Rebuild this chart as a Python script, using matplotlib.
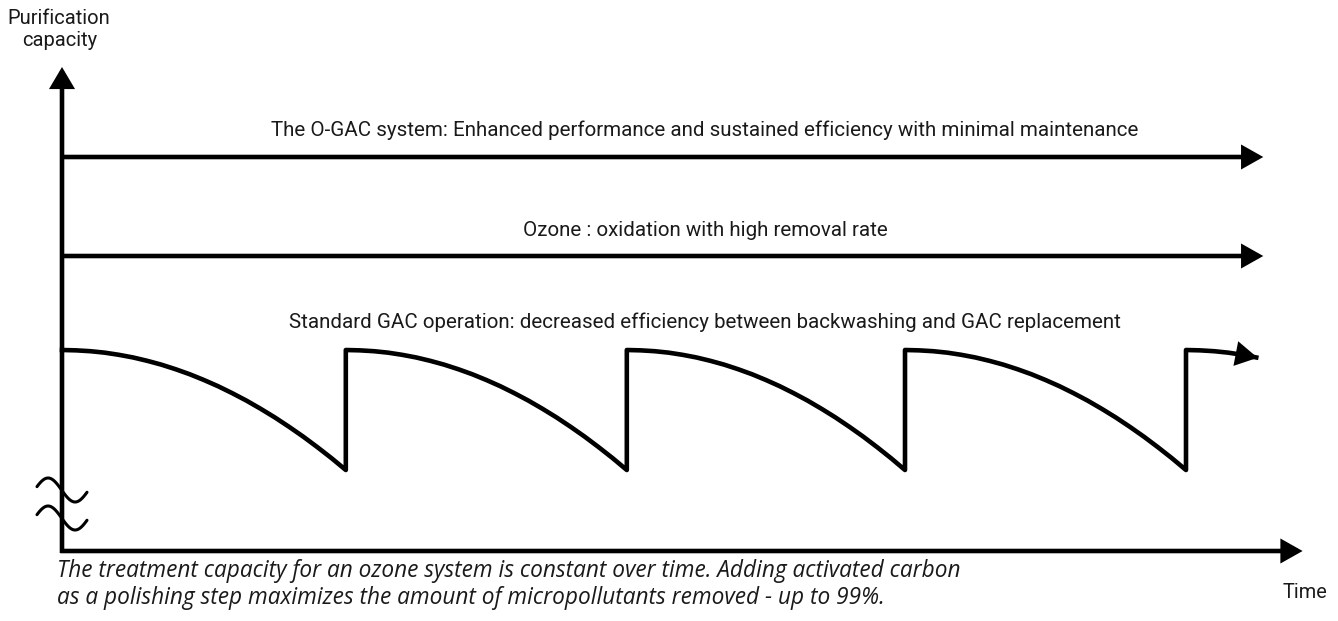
import numpy as np
import matplotlib
matplotlib.use("Agg")
import matplotlib.pyplot as plt

# ---- data (schematic units: time in GAC cycles, capacity in arbitrary units) ----
ogac_level = 3.94
ozone_level = 2.95
gac_max = 2.01
gac_min = 0.81
cycle_starts = [0.0, 1.01, 2.01, 3.0, 4.0]
line_end = 4.275
gac_end = 4.255
# decay of standard GAC capacity within one cycle (fraction of cycle, fraction of drop)
decay_frac_time = [0.0, 0.05, 0.1, 0.15, 0.2, 0.25, 0.3, 0.35, 0.4, 0.45, 0.5,
                   0.55, 0.6, 0.65, 0.7, 0.75, 0.8, 0.85, 0.9, 0.95, 1.0]
decay_frac_drop = [0.0, 0.003, 0.01, 0.022, 0.04, 0.062, 0.09, 0.122, 0.16, 0.202, 0.25,
                   0.302, 0.36, 0.422, 0.49, 0.562, 0.64, 0.722, 0.81, 0.902, 1.0]
x_axis_end = 4.415
y_axis_end = 4.84

labels = {
    "ogac": "The O-GAC system: Enhanced performance and sustained efficiency with minimal maintenance",
    "ozone": "Ozone : oxidation with high removal rate",
    "gac": "Standard GAC operation: decreased efficiency between backwashing and GAC replacement",
}
ylabel = "Purification\ncapacity"
xlabel = "Time"
note = ("The treatment capacity for an ozone system is constant over time. Adding activated carbon\n"
        "as a polishing step maximizes the amount of micropollutants removed - up to 99%.")

# ---- figure ----
W, H, DPI = 1338, 621, 100
fig = plt.figure(figsize=(W / DPI, H / DPI), dpi=DPI)
ax = fig.add_axes([0, 0, 1, 1])
ax.set_xlim(-62 / 281, (W - 62) / 281)
ax.set_ylim(-0.70, 5.51)
ax.axis("off")

LW = 3.3
TXT = "#1a1a1a"
font = ["Roboto", "DejaVu Sans"]


def arrow(x0, y0, x1, y1, hl=11, hw=6.2):
    ax.annotate("", xy=(x1, y1), xytext=(x0, y0),
                arrowprops=dict(arrowstyle=f"-|>,head_length={hl},head_width={hw}",
                                mutation_scale=1, lw=LW, color="black",
                                shrinkA=0, shrinkB=0, joinstyle="miter", capstyle="butt"))


# axes
arrow(0, -0.02, 0, y_axis_end, hl=11, hw=6.5)
arrow(-0.006, 0, x_axis_end, 0, hl=11, hw=6.2)

# constant lines
arrow(0, ogac_level, line_end, ogac_level)
arrow(0, ozone_level, line_end, ozone_level)

# standard GAC saw-tooth
ft = np.array(decay_frac_time)
fd = np.array(decay_frac_drop)
xs, ys = [], []
for i, t0 in enumerate(cycle_starts):
    if i + 1 < len(cycle_starts):
        t1 = cycle_starts[i + 1]
        xs += list(t0 + ft * (t1 - t0))
        ys += list(gac_max - fd * (gac_max - gac_min))
    else:
        period = cycle_starts[i] - cycle_starts[i - 1]
        keep = ft * period < gac_end - t0 - 1e-6
        xs += list(t0 + ft[keep] * period)
        ys += list(gac_max - fd[keep] * (gac_max - gac_min))
        xs.append(gac_end)
        ys.append(gac_max - np.interp((gac_end - t0) / period, ft, fd) * (gac_max - gac_min))
ax.plot(xs[:-1], ys[:-1], color="black", lw=LW, solid_joinstyle="round")
arrow(xs[-3], ys[-3], xs[-1], ys[-1], hl=11, hw=6.2)

# axis break marks
u = np.linspace(0.09, 1.94, 60) * np.pi
bx = -0.089 + (u - u[0]) / (u[-1] - u[0]) * 0.178
for yc in (0.61, 0.33):
    ax.plot(bx, yc + 0.12 * np.sin(u), color="black", lw=2.2, solid_capstyle="round")

# texts
xc = 2.288
fs = 14.75
ax.text(xc, 4.21, labels["ogac"], ha="center", va="center", fontsize=fs, color=TXT, family=font)
ax.text(xc, 3.20, labels["ozone"], ha="center", va="center", fontsize=fs, color=TXT, family=font)
ax.text(xc, 2.29, labels["gac"], ha="center", va="center", fontsize=fs, color=TXT, family=font)
ax.text(-0.01, 5.22, ylabel, ha="center", va="center", fontsize=14.5, color=TXT, family=font,
        linespacing=1.2)
ax.text(4.423, -0.41, xlabel, ha="center", va="center", fontsize=14.3, color=TXT, family=font)
ax.text(-0.018, -0.335, note, ha="left", va="center", fontsize=16.25, style="italic", color=TXT,
        family=["Open Sans", "DejaVu Sans"], linespacing=1.2)

fig.savefig("out.png", dpi=DPI)
